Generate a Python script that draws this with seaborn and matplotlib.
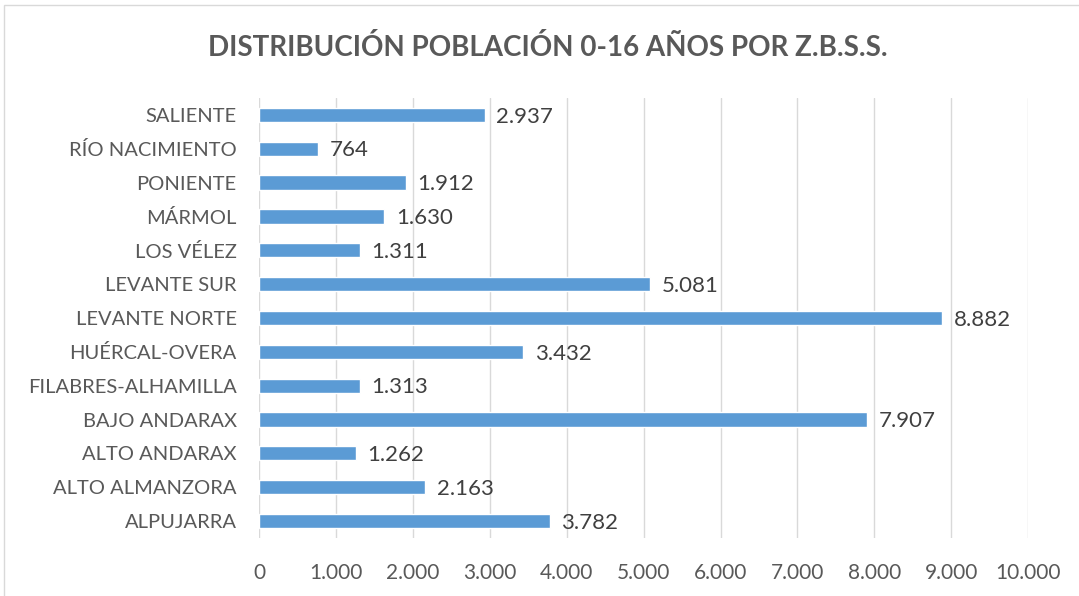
import matplotlib
matplotlib.use("Agg")
import matplotlib.pyplot as plt
import seaborn as sns
import pandas as pd
from matplotlib.patches import Rectangle

zonas = ["SALIENTE", "RÍO NACIMIENTO", "PONIENTE", "MÁRMOL", "LOS VÉLEZ",
         "LEVANTE SUR", "LEVANTE NORTE", "HUÉRCAL-OVERA", "FILABRES-ALHAMILLA",
         "BAJO ANDARAX", "ALTO ANDARAX", "ALTO ALMANZORA", "ALPUJARRA"]
poblacion = [2937, 764, 1912, 1630, 1311, 5081, 8882, 3432, 1313, 7907, 1262, 2163, 3782]
xticks = list(range(0, 10001, 1000))

df = pd.DataFrame({"zona": zonas, "poblacion": poblacion})

sns.set_style("white")
plt.rcParams["font.family"] = ["Lato", "DejaVu Sans"]
gris = "#595959"

fig = plt.figure(figsize=(10.79, 5.96), dpi=100)
ax = fig.add_axes([0.240, 0.0973, 0.713, 0.7383])

sns.barplot(data=df, x="poblacion", y="zona", color="#5B9BD5", width=0.42,
            saturation=1, ax=ax, zorder=3)

# etiquetas de datos con punto de miles
for i, v in enumerate(poblacion):
    ax.text(v + 150, i + 0.05, "{:,}".format(v).replace(",", "."), va="center", ha="left",
            fontsize=16, color="#404040")

ax.set_xlim(0, 10000)
ax.set_xticks(xticks)
ax.set_xticklabels(["{:,}".format(t).replace(",", ".") for t in xticks])
ax.set_ylim(len(zonas) - 0.5, -0.5)
ax.grid(axis="x", color="#D9D9D9", linewidth=1, zorder=0)
ax.set_axisbelow(True)
for s in ax.spines.values():
    s.set_visible(False)
ax.tick_params(axis="both", length=0, colors=gris)
ax.tick_params(axis="x", pad=18, labelsize=15)
ax.tick_params(axis="y", pad=16, labelsize=14.5)
ax.set_xlabel("")
ax.set_ylabel("")

fig.text(0.508, 0.921, "DISTRIBUCIÓN POBLACIÓN 0-16 AÑOS POR Z.B.S.S.", ha="center",
         va="center", fontsize=20, fontweight="bold", color=gris)

# borde del gráfico
fig.patches.append(Rectangle((4 / 1079, -0.05), 1.05, 1 - 5 / 596 + 0.05,
                             transform=fig.transFigure, fill=False,
                             edgecolor="#D9D9D9", linewidth=1))

plt.savefig("out.png", dpi=100)
